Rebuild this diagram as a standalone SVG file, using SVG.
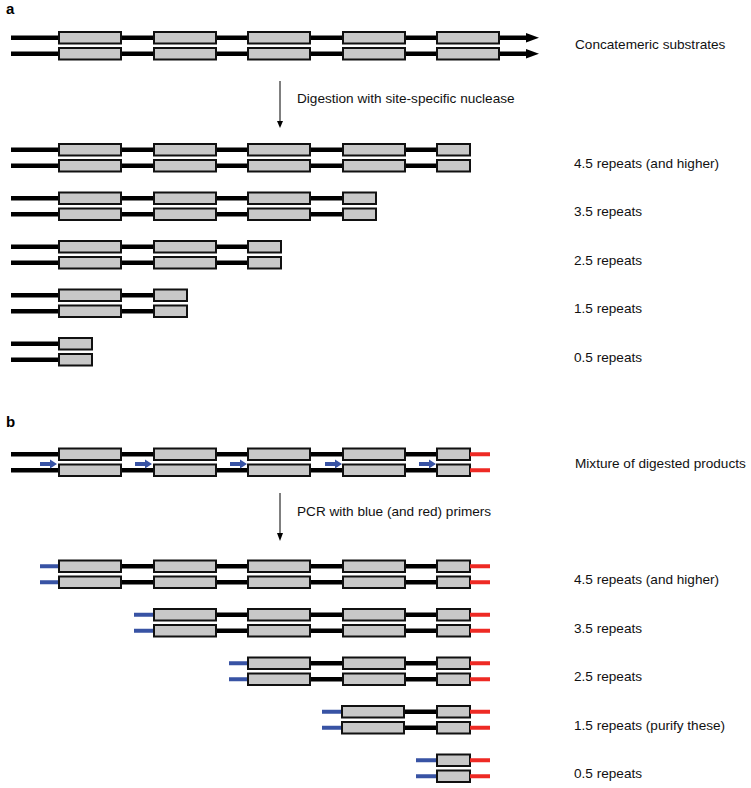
<svg xmlns="http://www.w3.org/2000/svg" xmlns:xlink="http://www.w3.org/1999/xlink" width="751" height="788" viewBox="0 0 751 788">
<style>
.s{stroke:#000;stroke-width:4.5;fill:none}
.bx{fill:#c8c8c8;stroke:#111;stroke-width:2}
.bl{stroke:#3853a4;stroke-width:4;fill:none}
.rd{stroke:#ee2a24;stroke-width:4;fill:none}
.ba{fill:#3853a4}
.lbl{font-family:"Liberation Sans",Arial,sans-serif;font-size:13.6px;fill:#111}
.hd{font-family:"Liberation Sans",Arial,sans-serif;font-size:15px;font-weight:bold;fill:#000}
.ar{stroke:#000;stroke-width:1;fill:none}
</style>
<defs>
<g id="fb"><rect class="bx" x="1" y="1" width="62" height="11.5"/><rect class="bx" x="1" y="17" width="62" height="11.5"/></g>
<g id="hb"><rect class="bx" x="1" y="1" width="33" height="11.5"/><rect class="bx" x="1" y="17" width="33" height="11.5"/></g>
<path id="pa" class="ba" d="M0,-2 H10 V-4.5 L17,0 L10,4.5 V2 H0 Z"/>
</defs>
<rect width="751" height="788" fill="#fff"/>
<text class="hd" x="6" y="14">a</text>
<text class="hd" x="6" y="427">b</text>

<g id="connectors">
<line class="ar" x1="280" y1="81" x2="280" y2="122"/>
<polygon points="277,121 283,121 280,128" fill="#000"/>
<line class="ar" x1="280" y1="493" x2="280" y2="534"/>
<polygon points="277,533 283,533 280,541" fill="#000"/>
</g>
<text class="lbl" x="297" y="103">Digestion with site-specific nuclease</text>
<text class="lbl" x="297" y="516">PCR with blue (and red) primers</text>

<g id="a-substrate">
<path class="s" d="M11 37.75 H528 M11 53.75 H528"/>
<polygon points="526,33 539,37.75 526,42.5" fill="#000"/>
<polygon points="526,49 539,53.75 526,58.5" fill="#000"/>
<use xlink:href="#fb" x="58" y="31"/><use xlink:href="#fb" x="153" y="31"/><use xlink:href="#fb" x="247" y="31"/><use xlink:href="#fb" x="342" y="31"/><use xlink:href="#fb" x="436" y="31"/>
<text class="lbl" x="575" y="49">Concatemeric substrates</text>
</g>

<g id="a-4-5">
<path class="s" d="M11 149.75 H436 M11 165.75 H436"/>
<use xlink:href="#fb" x="58" y="143"/><use xlink:href="#fb" x="153" y="143"/><use xlink:href="#fb" x="247" y="143"/><use xlink:href="#fb" x="342" y="143"/><use xlink:href="#hb" x="436" y="143"/>
<text class="lbl" x="574" y="167.5">4.5 repeats (and higher)</text>
</g>
<g id="a-3-5">
<path class="s" d="M11 198.25 H342 M11 214.25 H342"/>
<use xlink:href="#fb" x="58" y="191.5"/><use xlink:href="#fb" x="153" y="191.5"/><use xlink:href="#fb" x="247" y="191.5"/><use xlink:href="#hb" x="342" y="191.5"/>
<text class="lbl" x="574" y="216">3.5 repeats</text>
</g>
<g id="a-2-5">
<path class="s" d="M11 246.75 H247 M11 262.75 H247"/>
<use xlink:href="#fb" x="58" y="240"/><use xlink:href="#fb" x="153" y="240"/><use xlink:href="#hb" x="247" y="240"/>
<text class="lbl" x="574" y="264.5">2.5 repeats</text>
</g>
<g id="a-1-5">
<path class="s" d="M11 295.25 H153 M11 311.25 H153"/>
<use xlink:href="#fb" x="58" y="288.5"/><use xlink:href="#hb" x="153" y="288.5"/>
<text class="lbl" x="574" y="313">1.5 repeats</text>
</g>
<g id="a-0-5">
<path class="s" d="M11 343.75 H58 M11 359.75 H58"/>
<use xlink:href="#hb" x="58" y="337"/>
<text class="lbl" x="574" y="361.5">0.5 repeats</text>
</g>

<g id="b-mixture">
<path class="s" d="M11 454.25 H436 M11 470.25 H436"/>
<use xlink:href="#fb" x="58" y="447.5"/><use xlink:href="#fb" x="153" y="447.5"/><use xlink:href="#fb" x="247" y="447.5"/><use xlink:href="#fb" x="342" y="447.5"/><use xlink:href="#hb" x="436" y="447.5"/>
<path class="rd" d="M470 454.25 H490 M470 470.25 H490"/>
<use xlink:href="#pa" x="40" y="464"/><use xlink:href="#pa" x="135" y="464"/><use xlink:href="#pa" x="230" y="464"/><use xlink:href="#pa" x="325" y="464"/><use xlink:href="#pa" x="419" y="464"/>
<text class="lbl" x="575" y="468">Mixture of digested products</text>
</g>

<g id="b-4-5">
<path class="bl" d="M40 566.25 H58 M40 582.25 H58"/>
<path class="s" d="M58 566.25 H436 M58 582.25 H436"/>
<use xlink:href="#fb" x="58" y="559.5"/><use xlink:href="#fb" x="153" y="559.5"/><use xlink:href="#fb" x="247" y="559.5"/><use xlink:href="#fb" x="342" y="559.5"/><use xlink:href="#hb" x="436" y="559.5"/>
<path class="rd" d="M470 566.25 H490 M470 582.25 H490"/>
<text class="lbl" x="574" y="584">4.5 repeats (and higher)</text>
</g>
<g id="b-3-5">
<path class="bl" d="M134 614.75 H153 M134 630.75 H153"/>
<path class="s" d="M153 614.75 H436 M153 630.75 H436"/>
<use xlink:href="#fb" x="153" y="608"/><use xlink:href="#fb" x="247" y="608"/><use xlink:href="#fb" x="342" y="608"/><use xlink:href="#hb" x="436" y="608"/>
<path class="rd" d="M470 614.75 H490 M470 630.75 H490"/>
<text class="lbl" x="574" y="632.5">3.5 repeats</text>
</g>
<g id="b-2-5">
<path class="bl" d="M229 663.25 H247 M229 679.25 H247"/>
<path class="s" d="M247 663.25 H436 M247 679.25 H436"/>
<use xlink:href="#fb" x="247" y="656.5"/><use xlink:href="#fb" x="342" y="656.5"/><use xlink:href="#hb" x="436" y="656.5"/>
<path class="rd" d="M470 663.25 H490 M470 679.25 H490"/>
<text class="lbl" x="574" y="681">2.5 repeats</text>
</g>
<g id="b-1-5">
<path class="bl" d="M322 711.75 H342 M322 727.75 H342"/>
<path class="s" d="M342 711.75 H436 M342 727.75 H436"/>
<use xlink:href="#fb" x="341" y="705"/><use xlink:href="#hb" x="436" y="705"/>
<path class="rd" d="M470 711.75 H490 M470 727.75 H490"/>
<text class="lbl" x="574" y="729.5">1.5 repeats (purify these)</text>
</g>
<g id="b-0-5">
<path class="bl" d="M416 760.25 H436 M416 776.25 H436"/>
<use xlink:href="#hb" x="436" y="753.5"/>
<path class="rd" d="M470 760.25 H490 M470 776.25 H490"/>
<text class="lbl" x="574" y="778">0.5 repeats</text>
</g>
</svg>
